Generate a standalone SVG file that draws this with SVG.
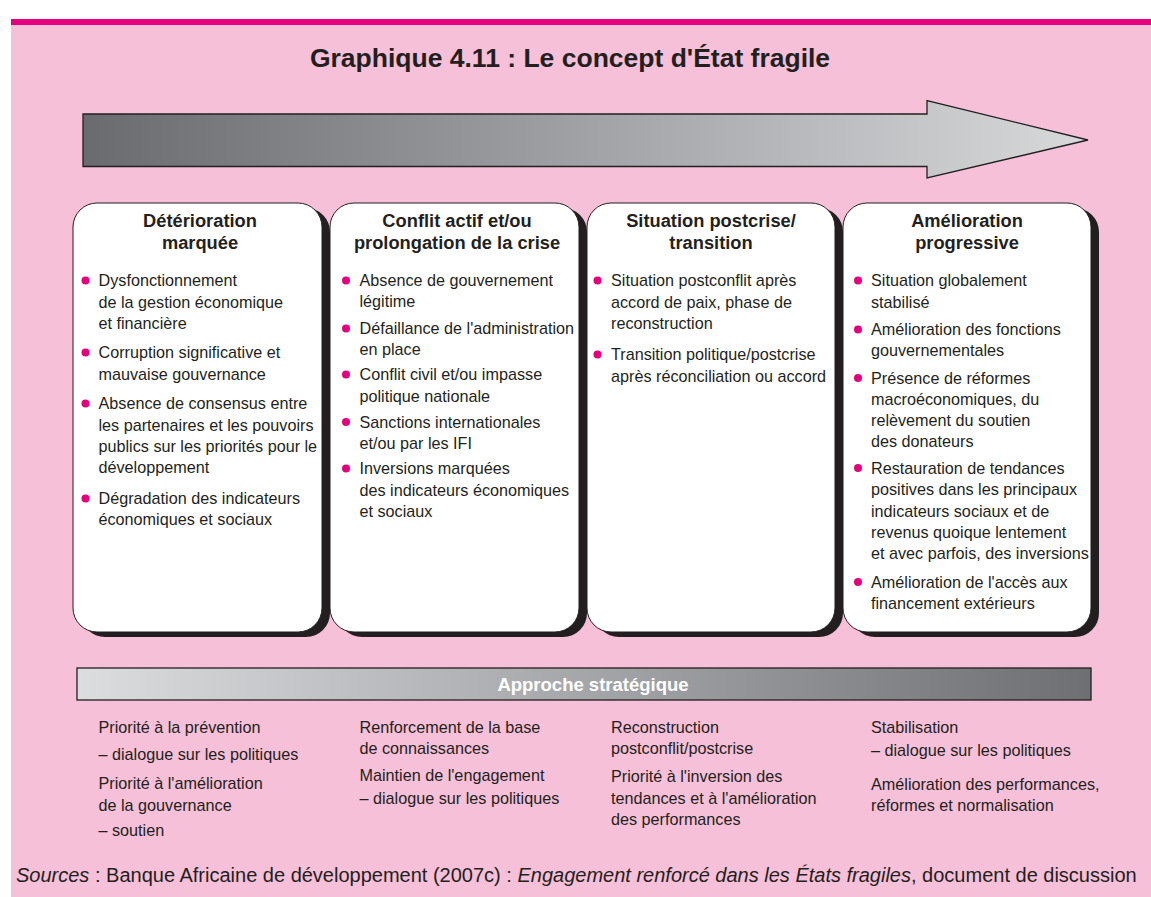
<svg xmlns="http://www.w3.org/2000/svg" width="1151" height="897" viewBox="0 0 1151 897">
<defs>
<linearGradient id="gArrow" x1="0" y1="0" x2="1" y2="0">
<stop offset="0" stop-color="#6a6b6f"/>
<stop offset="1" stop-color="#d8d9db"/>
</linearGradient>
<linearGradient id="gBar" x1="0" y1="0" x2="1" y2="0">
<stop offset="0" stop-color="#dcdddf"/>
<stop offset="1" stop-color="#6e6f73"/>
</linearGradient>
<style>
text{font-family:"Liberation Sans",Arial,sans-serif;fill:#231f20}
.title{font-size:26.5px;font-weight:bold}
.hd{font-size:18.3px;font-weight:bold;text-anchor:middle}
.t{font-size:16.2px}
.b{fill:#e6007e}
.card{fill:#ffffff;stroke:#231f20;stroke-width:1}
.shadow{fill:#231f20}
.bar{font-size:18.5px;font-weight:bold;fill:#ffffff;text-anchor:middle}
.it{font-style:italic}
.src{font-size:20px}
</style>
</defs>
<rect x="0" y="0" width="1151" height="897" fill="#ffffff"/>
<rect x="11" y="19" width="1140" height="878" fill="#f6c0d8"/>
<rect x="11" y="19" width="1140" height="6" fill="#e6007e"/>
<text class="title" x="570" y="67" text-anchor="middle">Graphique 4.11 : Le concept d'État fragile</text>

<g id="arrow">
<polygon points="83,114 927,114 927,100.5 1088,140 927,178 927,166.5 83,166.5" fill="url(#gArrow)" stroke="#231f20" stroke-width="1.3"/>
</g>

<g id="box1">
<rect class="shadow" x="81" y="208" width="249" height="429" rx="24"/>
<rect class="card" x="73" y="203" width="249" height="429" rx="24"/>
<text class="hd" x="200" y="227">Détérioration</text>
<text class="hd" x="200" y="249">marquée</text>
<circle class="b" cx="85.5" cy="280.5" r="4"/>
<circle class="b" cx="85.5" cy="352.5" r="4"/>
<circle class="b" cx="85.5" cy="403.5" r="4"/>
<circle class="b" cx="85.5" cy="498.5" r="4"/>
<text class="t" x="98.5" y="286">Dysfonctionnement</text>
<text class="t" x="98.5" y="307.5">de la gestion économique</text>
<text class="t" x="98.5" y="328.5">et financière</text>
<text class="t" x="98.5" y="358">Corruption significative et</text>
<text class="t" x="98.5" y="380">mauvaise gouvernance</text>
<text class="t" x="98.5" y="409">Absence de consensus entre</text>
<text class="t" x="98.5" y="430.5">les partenaires et les pouvoirs</text>
<text class="t" x="98.5" y="452">publics sur les priorités pour le</text>
<text class="t" x="98.5" y="473">développement</text>
<text class="t" x="98.5" y="504">Dégradation des indicateurs</text>
<text class="t" x="98.5" y="525">économiques et sociaux</text>
</g>

<g id="box2">
<rect class="shadow" x="338" y="208" width="249" height="429" rx="24"/>
<rect class="card" x="330" y="203" width="249" height="429" rx="24"/>
<text class="hd" x="457" y="227">Conflit actif et/ou</text>
<text class="hd" x="457" y="249">prolongation de la crise</text>
<circle class="b" cx="346" cy="280.5" r="4"/>
<circle class="b" cx="346" cy="328.5" r="4"/>
<circle class="b" cx="346" cy="374.5" r="4"/>
<circle class="b" cx="346" cy="422" r="4"/>
<circle class="b" cx="346" cy="468.5" r="4"/>
<text class="t" x="359.5" y="286">Absence de gouvernement</text>
<text class="t" x="359.5" y="307">légitime</text>
<text class="t" x="359.5" y="334">Défaillance de l'administration</text>
<text class="t" x="359.5" y="355">en place</text>
<text class="t" x="359.5" y="380">Conflit civil et/ou impasse</text>
<text class="t" x="359.5" y="401.5">politique nationale</text>
<text class="t" x="359.5" y="427.5">Sanctions internationales</text>
<text class="t" x="359.5" y="448.5">et/ou par les IFI</text>
<text class="t" x="359.5" y="474">Inversions marquées</text>
<text class="t" x="359.5" y="495.5">des indicateurs économiques</text>
<text class="t" x="359.5" y="516.5">et sociaux</text>
</g>

<g id="box3">
<rect class="shadow" x="595" y="208" width="248" height="429" rx="24"/>
<rect class="card" x="587" y="203" width="248" height="429" rx="24"/>
<text class="hd" x="711" y="227">Situation postcrise/</text>
<text class="hd" x="711" y="249">transition</text>
<circle class="b" cx="597.5" cy="280.5" r="4"/>
<circle class="b" cx="597.5" cy="354.5" r="4"/>
<text class="t" x="611" y="286">Situation postconflit après</text>
<text class="t" x="611" y="307.5">accord de paix, phase de</text>
<text class="t" x="611" y="328.5">reconstruction</text>
<text class="t" x="611" y="360">Transition politique/postcrise</text>
<text class="t" x="611" y="381.5">après réconciliation ou accord</text>
</g>

<g id="box4">
<rect class="shadow" x="851" y="208" width="248" height="429" rx="24"/>
<rect class="card" x="843" y="203" width="248" height="429" rx="24"/>
<text class="hd" x="967" y="227">Amélioration</text>
<text class="hd" x="967" y="249">progressive</text>
<circle class="b" cx="858" cy="280.5" r="4"/>
<circle class="b" cx="858" cy="329.5" r="4"/>
<circle class="b" cx="858" cy="378" r="4"/>
<circle class="b" cx="858" cy="468" r="4"/>
<circle class="b" cx="858" cy="582" r="4"/>
<text class="t" x="871" y="286">Situation globalement</text>
<text class="t" x="871" y="307.5">stabilisé</text>
<text class="t" x="871" y="335">Amélioration des fonctions</text>
<text class="t" x="871" y="356">gouvernementales</text>
<text class="t" x="871" y="383.5">Présence de réformes</text>
<text class="t" x="871" y="404.5">macroéconomiques, du</text>
<text class="t" x="871" y="425.5">relèvement du soutien</text>
<text class="t" x="871" y="447">des donateurs</text>
<text class="t" x="871" y="473.5">Restauration de tendances</text>
<text class="t" x="871" y="495">positives dans les principaux</text>
<text class="t" x="871" y="516.5">indicateurs sociaux et de</text>
<text class="t" x="871" y="537.5">revenus quoique lentement</text>
<text class="t" x="871" y="559">et avec parfois, des inversions</text>
<text class="t" x="871" y="588">Amélioration de l'accès aux</text>
<text class="t" x="871" y="608.5">financement extérieurs</text>
</g>

<g id="approche">
<rect x="77" y="668" width="1014" height="32" fill="url(#gBar)" stroke="#231f20" stroke-width="1.3"/>
<text class="bar" x="593" y="690.5">Approche stratégique</text>
</g>

<g id="strategies">
<text class="t" x="98.5" y="733">Priorité à la prévention</text>
<text class="t" x="98.5" y="760">– dialogue sur les politiques</text>
<text class="t" x="98.5" y="789">Priorité à l'amélioration</text>
<text class="t" x="98.5" y="811">de la gouvernance</text>
<text class="t" x="98.5" y="836">– soutien</text>
<text class="t" x="359.5" y="733">Renforcement de la base</text>
<text class="t" x="359.5" y="754">de connaissances</text>
<text class="t" x="359.5" y="781">Maintien de l'engagement</text>
<text class="t" x="359.5" y="804">– dialogue sur les politiques</text>
<text class="t" x="611" y="733">Reconstruction</text>
<text class="t" x="611" y="754">postconflit/postcrise</text>
<text class="t" x="611" y="782">Priorité à l'inversion des</text>
<text class="t" x="611" y="804">tendances et à l'amélioration</text>
<text class="t" x="611" y="825">des performances</text>
<text class="t" x="871" y="733">Stabilisation</text>
<text class="t" x="871" y="756">– dialogue sur les politiques</text>
<text class="t" x="871" y="790">Amélioration des performances,</text>
<text class="t" x="871" y="811">réformes et normalisation</text>
</g>

<text class="src" x="16" y="882"><tspan class="it">Sources</tspan> : Banque Africaine de développement (2007c) : <tspan class="it">Engagement renforcé dans les États fragiles</tspan>, document de discussion</text>
</svg>
